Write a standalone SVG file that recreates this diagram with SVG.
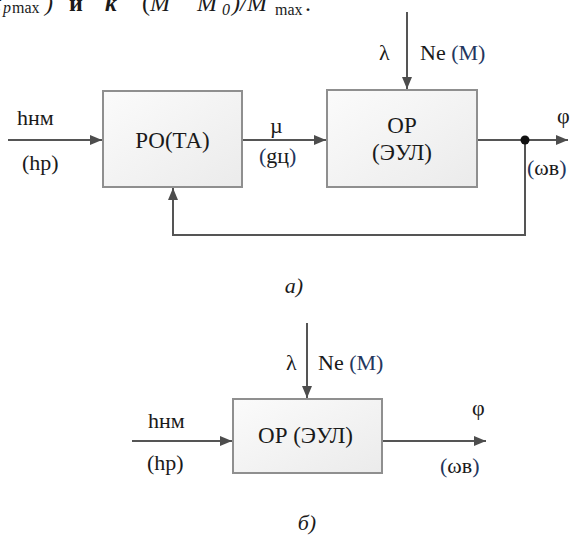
<svg xmlns="http://www.w3.org/2000/svg" width="574" height="538" viewBox="0 0 574 538">
<defs>
<linearGradient id="bg" x1="0" y1="0" x2="1" y2="1">
<stop offset="0" stop-color="#fbfbfb"/>
<stop offset="1" stop-color="#ebebeb"/>
</linearGradient>
<marker id="ah" markerWidth="13" markerHeight="11" refX="12" refY="5" orient="auto" markerUnits="userSpaceOnUse">
<path d="M0,0 L12,5 L0,10 z" fill="#4d4d4d"/>
</marker>
<style>
text{font-family:'Liberation Serif','DejaVu Serif',serif}
.t{fill:#1a1a1a;font-size:22px}
.box{fill:url(#bg);stroke:#8f8f8f;stroke-width:2}
.ln{fill:none;stroke:#555;stroke-width:2}
.it{font-style:italic}
.b{font-weight:bold}
.bl{fill:#23365e}
.sub{font-size:16px}
</style>
</defs>
<rect width="574" height="538" fill="#fff"/>

<g id="header" class="t" style="font-size:24px">
<text x="-6" y="11" class="it">t</text>
<text x="3" y="13" class="it sub">p</text>
<text x="12" y="13" class="sub">max</text>
<text x="45" y="11" class="it">)</text>
<text x="69" y="11" class="b">и</text>
<text x="105" y="11" class="it b">k</text>
<text x="142" y="11">(</text>
<text x="150" y="11" class="it">M</text>
<text x="197" y="11" class="it">M</text>
<text x="222" y="15" class="it sub">0</text>
<text x="232" y="11" class="it">)/</text>
<text x="247" y="11" class="it">M</text>
<text x="275" y="15" class="sub">max</text>
<text x="305" y="11">.</text>
</g>

<g id="connectors">
<line class="ln" x1="8" y1="140" x2="102" y2="140" marker-end="url(#ah)"/>
<line class="ln" x1="242" y1="140" x2="326" y2="140" marker-end="url(#ah)"/>
<line class="ln" x1="407" y1="12" x2="407" y2="89" marker-end="url(#ah)"/>
<line class="ln" x1="477" y1="140" x2="568" y2="140" marker-end="url(#ah)"/>
<polyline class="ln" points="525,140 525,235 173,235 173,188" marker-end="url(#ah)"/>
<circle cx="525" cy="140" r="4.5" fill="#111"/>
<line class="ln" x1="132" y1="441" x2="232" y2="441" marker-end="url(#ah)"/>
<line class="ln" x1="307" y1="323" x2="307" y2="398" marker-end="url(#ah)"/>
<line class="ln" x1="382" y1="441" x2="486" y2="441" marker-end="url(#ah)"/>
</g>

<g id="node-ro">
<rect class="box" x="103" y="91" width="139" height="96"/>
<text class="t" x="172.5" y="148" text-anchor="middle" style="font-size:23px">РО(ТА)</text>
</g>

<g id="node-or">
<rect class="box" x="327" y="90" width="150" height="97"/>
<text class="t" x="402" y="133" text-anchor="middle" style="font-size:23px">ОР</text>
<text class="t" x="402" y="160" text-anchor="middle" style="font-size:23px">(ЭУЛ)</text>
</g>

<g id="labels-a" class="t">
<text x="17" y="125">hнм</text>
<text x="22" y="170">(hp)</text>
<text x="270" y="133">µ</text>
<text x="259" y="163"><tspan class="bl">(</tspan>gц<tspan class="bl">)</tspan></text>
<text x="379" y="60">λ</text>
<text x="420" y="60">Ne <tspan class="bl">(M)</tspan></text>
<text x="557" y="123">φ</text>
<text x="527" y="175"><tspan class="bl">(</tspan>ωв<tspan class="bl">)</tspan></text>
<text x="294" y="293" text-anchor="middle" class="it">а)</text>
</g>

<g id="node-or2">
<rect class="box" x="233" y="399" width="149" height="74"/>
<text class="t" x="305.5" y="443" text-anchor="middle" style="font-size:23px">ОР (ЭУЛ)</text>
</g>

<g id="labels-b" class="t">
<text x="148" y="428">hнм</text>
<text x="147" y="470">(hp)</text>
<text x="286" y="370">λ</text>
<text x="318" y="370">Ne <tspan class="bl">(M)</tspan></text>
<text x="472" y="415">φ</text>
<text x="440" y="473"><tspan class="bl">(</tspan>ωв<tspan class="bl">)</tspan></text>
<text x="307" y="530" text-anchor="middle" class="it">б)</text>
</g>
</svg>
